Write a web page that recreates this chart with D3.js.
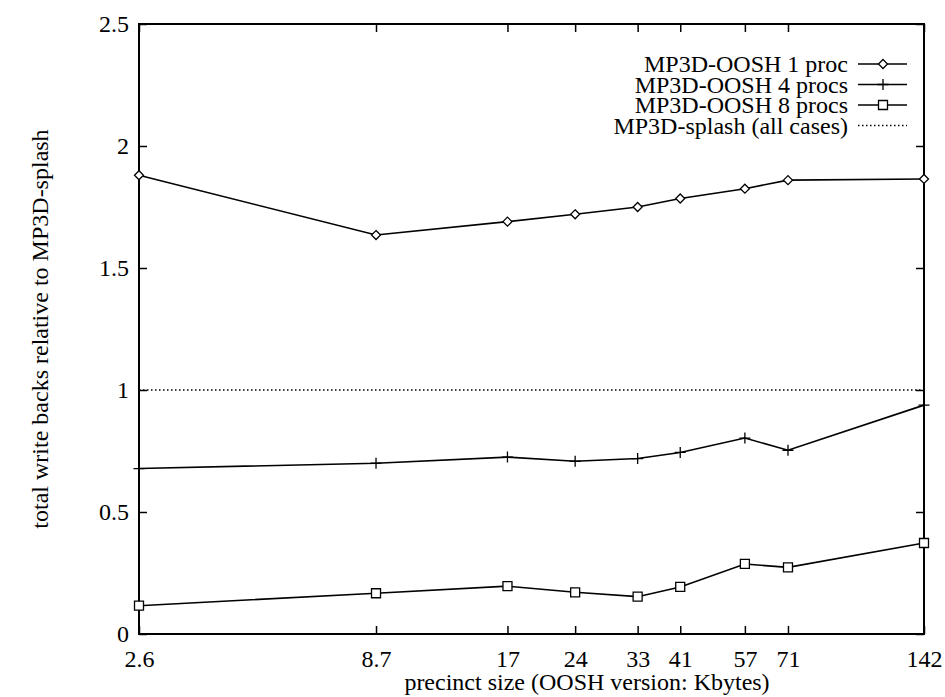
<!DOCTYPE html>
<meta charset="utf-8">
<style>
    body { margin: 0; background: #fff; }
    svg text { font-family: "Liberation Serif", "DejaVu Serif", "Times New Roman", Times, serif; font-size: 24px; fill: #000; }
    .axis line { stroke: #000; stroke-width: 1.5; }
    .series { fill: none; stroke: #000; stroke-width: 1.6; }
    .marker { fill: #fff; stroke: #000; stroke-width: 1.3; }
</style>
<svg width="945" height="697"></svg>
<script src="https://cdn.jsdelivr.net/npm/d3@7"></script>
<script>

    // precinct sizes (Kbytes), log-spaced on the x axis
    var sizes = [2.6, 8.7, 17, 24, 33, 41, 57, 71, 142];
    var sizeLabels = ["2.6", "8.7", "17", "24", "33", "41", "57", "71", "142"];

    // write backs relative to MP3D-splash
    var oosh1 = [1.88, 1.635, 1.69, 1.72, 1.75, 1.785, 1.825, 1.86, 1.865];
    var oosh4 = [0.678, 0.70, 0.725, 0.708, 0.719, 0.744, 0.803, 0.753, 0.938];
    var oosh8 = [0.116, 0.167, 0.196, 0.171, 0.153, 0.193, 0.287, 0.273, 0.373];
    var splash = [1, 1, 1, 1, 1, 1, 1, 1, 1];

    var yTicks = [0, 0.5, 1, 1.5, 2, 2.5];
    var yTickLabels = ["0", "0.5", "1", "1.5", "2", "2.5"];

    var legendLabels = ["MP3D-OOSH 1 proc", "MP3D-OOSH 4 procs", "MP3D-OOSH 8 procs", "MP3D-splash (all cases)"];

    var fontStack = "'Liberation Serif', 'DejaVu Serif', 'Times New Roman', Times, serif";

    var svg = d3.select("svg"),
        margin = {top: 24, right: 21, bottom: 63, left: 139},
        width = +svg.attr("width") - margin.left - margin.right,
        height = +svg.attr("height") - margin.top - margin.bottom;

    var g = svg.append("g").attr("transform", "translate(" + margin.left + "," + margin.top + ")");

    var x = d3.scaleLog().domain([2.6, 142]).range([0, width]);
    var y = d3.scaleLinear().domain([0, 2.5]).range([height, 0]);

    // axes, ticks drawn inward and mirrored like gnuplot
    g.append("g").attr("class", "axis")
        .attr("transform", "translate(0," + height + ")")
        .call(d3.axisBottom(x).tickValues(sizes)
            .tickFormat(function (d, i) { return sizeLabels[i]; })
            .tickSizeInner(-8).tickSizeOuter(0).tickPadding(16));
    g.append("g").attr("class", "axis")
        .call(d3.axisTop(x).tickValues(sizes).tickFormat("")
            .tickSizeInner(-8).tickSizeOuter(0));
    g.append("g").attr("class", "axis")
        .call(d3.axisLeft(y).tickValues(yTicks)
            .tickFormat(function (d, i) { return yTickLabels[i]; })
            .tickSizeInner(-8).tickSizeOuter(0).tickPadding(10));
    g.append("g").attr("class", "axis")
        .attr("transform", "translate(" + width + ",0)")
        .call(d3.axisRight(y).tickValues(yTicks).tickFormat("")
            .tickSizeInner(-8).tickSizeOuter(0));
    g.selectAll(".axis .domain").remove();
    g.selectAll(".axis").attr("font-family", fontStack).attr("font-size", 24);
    g.selectAll(".axis text").attr("fill", "#000");

    g.append("rect")
        .attr("width", width).attr("height", height)
        .attr("fill", "none").attr("stroke", "#000").attr("stroke-width", 2);

    var line = d3.line()
        .x(function (d, i) { return x(sizes[i]); })
        .y(function (d) { return y(d); });

    var diamond = "M0,-4.5L4.5,0L0,4.5L-4.5,0Z",
        plus = "M-5.5,0H5.5M0,-5.5V5.5",
        square = "M-4.5,-4.5H4.5V4.5H-4.5Z";

    var series = [
        {values: oosh1, marker: diamond, dash: null},
        {values: oosh4, marker: plus, dash: null},
        {values: oosh8, marker: square, dash: null},
        {values: splash, marker: null, dash: "1.5,2.5"}
    ];

    series.forEach(function (s) {
        g.append("path")
            .attr("class", "series")
            .attr("d", line(s.values))
            .attr("stroke-dasharray", s.dash);
        if (s.marker) {
            g.selectAll(null)
                .data(s.values)
                .enter().append("path")
                .attr("class", "marker")
                .attr("d", s.marker)
                .attr("transform", function (d, i) { return "translate(" + x(sizes[i]) + "," + y(d) + ")"; });
        }
    });

    // legend
    var legend = svg.append("g").attr("transform", "translate(848,72)");
    series.forEach(function (s, i) {
        var row = legend.append("g").attr("transform", "translate(0," + i * 20.5 + ")");
        row.append("text")
            .attr("text-anchor", "end")
            .attr("font-family", fontStack)
            .text(legendLabels[i]);
        row.append("line")
            .attr("class", "series")
            .attr("x1", 10).attr("x2", 59)
            .attr("y1", -8).attr("y2", -8)
            .attr("stroke-dasharray", s.dash);
        if (s.marker) {
            row.append("path")
                .attr("class", "marker")
                .attr("d", s.marker)
                .attr("transform", "translate(35,-8)");
        }
    });

    // axis titles
    svg.append("text")
        .attr("text-anchor", "middle")
        .attr("font-family", fontStack)
        .attr("x", 587)
        .attr("y", 690)
        .text("precinct size (OOSH version: Kbytes)");

    svg.append("text")
        .attr("text-anchor", "middle")
        .attr("font-family", fontStack)
        .attr("transform", "translate(48," + (margin.top + height / 2) + ") rotate(-90)")
        .text("total write backs relative to MP3D-splash");

</script>
